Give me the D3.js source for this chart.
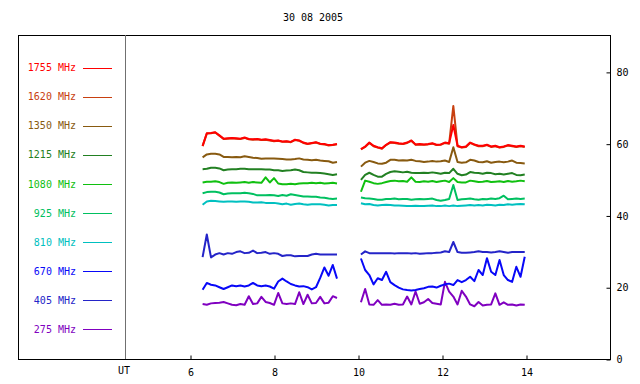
<!DOCTYPE html>
<html>
<head>
<meta charset="utf-8">
<script src="https://cdn.jsdelivr.net/npm/d3@7"></script>
<style>
  html, body { margin: 0; padding: 0; background: #ffffff; }
  svg { display: block; }
</style>
</head>
<body>
<svg id="chart" width="640" height="384"></svg>
<script>
// ---------------- DATA ----------------
const title = "30 08 2005";
const labels = ["1755 MHz", "1620 MHz", "1350 MHz", "1215 MHz", "1080 MHz",
                "925 MHz", "810 MHz", "670 MHz", "405 MHz", "275 MHz"];
const colors = ["#ff0000", "#c84010", "#885a10", "#228022", "#10c010",
                "#00c060", "#00c0c0", "#0808f8", "#2424c8", "#8000c0"];
const xTicks = [6, 8, 10, 12, 14];
const yTicks = [0, 20, 40, 60, 80];

// two observing segments, one sample every 0.1 h (UT)
const seg1Start = 6.3;
const seg2Start = 10.07;
const sampleStep = 0.1;

const v1755a = [59.4, 62.9, 63.0, 63.2, 62.3, 61.4, 61.5, 61.6, 61.5, 61.4, 61.7, 61.3, 61.2, 61.3, 61.1, 61.2, 61.0, 60.8, 60.9, 60.6, 60.7, 60.5, 61.1, 60.9, 60.3, 60.0, 60.2, 60.4, 60.0, 59.9, 59.6, 59.7, 59.9];
const v1755b = [58.5, 59.2, 60.3, 59.4, 59.0, 58.7, 59.7, 60.4, 60.3, 60.1, 60.0, 60.3, 60.9, 59.8, 59.9, 59.8, 59.9, 60.1, 59.7, 59.8, 60.3, 60.1, 65.2, 59.4, 59.0, 59.2, 60.3, 59.8, 59.4, 59.4, 59.7, 59.2, 59.4, 59.0, 59.2, 59.6, 59.4, 59.2, 59.4, 59.2];

const v1620a = [59.3, 62.8, 62.9, 63.1, 62.2, 61.3, 61.4, 61.5, 61.4, 61.3, 61.6, 61.2, 61.1, 61.2, 61.0, 61.1, 60.9, 60.7, 60.8, 60.5, 60.6, 60.4, 61.0, 60.8, 60.2, 59.9, 60.1, 60.3, 59.9, 59.8, 59.5, 59.6, 59.8];
const v1620b = [58.4, 59.1, 60.2, 59.3, 58.9, 58.6, 59.6, 60.3, 60.2, 60.0, 59.9, 60.2, 60.8, 59.7, 59.8, 59.7, 59.8, 60.0, 59.6, 59.7, 60.2, 60.0, 70.5, 59.3, 58.9, 59.1, 60.2, 59.7, 59.3, 59.3, 59.6, 59.1, 59.3, 58.9, 59.1, 59.5, 59.3, 59.1, 59.3, 59.1];

const v1350a = [56.2, 57.0, 57.2, 57.2, 57.0, 56.3, 56.3, 56.2, 56.3, 56.2, 56.5, 56.3, 56.1, 56.0, 55.8, 55.9, 55.9, 55.9, 55.8, 55.7, 55.6, 55.6, 55.7, 55.9, 55.6, 55.5, 55.4, 55.5, 55.3, 55.2, 55.1, 54.7, 54.9];
const v1350b = [53.6, 54.7, 55.2, 54.9, 54.5, 54.4, 54.7, 55.5, 55.5, 55.3, 55.4, 55.3, 55.5, 55.2, 55.1, 54.9, 55.0, 55.2, 55.0, 55.1, 55.3, 54.9, 59.0, 54.9, 54.7, 54.8, 55.5, 55.3, 54.9, 54.8, 55.1, 54.7, 54.9, 55.0, 54.8, 55.0, 55.3, 54.7, 54.6, 54.5];

const v1215a = [52.9, 53.0, 53.3, 53.3, 53.1, 52.6, 52.8, 52.9, 52.9, 53.0, 53.0, 52.9, 52.9, 52.9, 52.9, 52.8, 52.8, 52.6, 52.6, 52.4, 52.5, 52.6, 52.8, 52.6, 52.1, 52.0, 51.9, 51.9, 51.8, 51.7, 51.5, 51.3, 51.5];
const v1215b = [49.9, 51.3, 51.9, 51.3, 50.8, 50.8, 51.6, 52.1, 52.3, 52.2, 52.0, 52.2, 51.9, 51.8, 51.8, 51.9, 51.8, 52.0, 51.8, 51.6, 51.9, 51.8, 53.0, 51.6, 51.2, 51.4, 52.1, 51.9, 51.8, 51.6, 51.9, 51.8, 51.5, 51.6, 51.4, 51.6, 51.8, 51.3, 51.2, 51.4];

const v1080a = [49.2, 49.4, 49.4, 49.5, 49.3, 48.8, 49.1, 49.2, 49.1, 49.2, 49.3, 49.1, 49.3, 49.2, 49.1, 50.6, 49.2, 50.4, 48.9, 48.7, 48.7, 48.8, 48.7, 48.9, 49.0, 49.0, 49.1, 49.0, 49.1, 48.9, 49.0, 49.1, 48.9];
const v1080b = [46.6, 49.7, 49.4, 49.0, 48.8, 49.0, 49.3, 49.6, 49.7, 49.5, 49.6, 49.4, 50.6, 49.4, 49.3, 49.5, 49.4, 49.6, 49.3, 49.5, 49.7, 49.3, 50.4, 49.3, 49.2, 49.2, 49.7, 49.5, 49.3, 49.4, 49.6, 49.3, 49.4, 49.5, 49.3, 49.6, 49.4, 49.5, 49.7, 49.5];

const v925a = [46.2, 46.5, 46.6, 46.6, 46.4, 45.9, 46.1, 46.2, 46.2, 46.2, 46.3, 46.2, 46.0, 45.6, 45.6, 45.6, 45.7, 45.6, 45.4, 45.7, 45.5, 45.9, 45.7, 45.5, 45.3, 45.3, 45.2, 45.2, 45.0, 44.9, 44.7, 44.6, 44.7];
const v925b = [45.0, 44.8, 44.7, 44.6, 44.4, 44.4, 44.6, 44.6, 44.7, 44.5, 44.6, 44.6, 44.4, 44.5, 44.6, 44.5, 44.6, 44.7, 44.3, 44.1, 44.3, 44.6, 48.5, 44.3, 44.5, 44.6, 44.7, 44.5, 44.4, 44.6, 44.5, 44.7, 44.6, 44.8, 45.5, 44.5, 44.6, 44.7, 44.6, 44.7];

const v810a = [43.0, 43.9, 44.1, 44.0, 43.9, 43.8, 43.9, 43.9, 43.8, 43.9, 43.9, 43.8, 43.6, 43.6, 43.7, 43.5, 43.5, 43.5, 43.3, 43.1, 43.3, 43.0, 43.2, 43.3, 43.1, 43.0, 43.1, 43.1, 43.1, 43.0, 42.8, 42.9, 42.9];
const v810b = [43.4, 43.1, 43.2, 42.9, 42.8, 42.9, 43.0, 42.9, 42.8, 42.8, 42.7, 42.6, 42.6, 42.7, 42.6, 42.6, 42.7, 42.8, 42.6, 42.6, 42.8, 42.6, 42.8, 42.6, 42.7, 42.8, 42.9, 42.8, 42.9, 42.8, 43.0, 42.9, 42.8, 43.0, 42.9, 43.1, 43.0, 43.1, 43.2, 43.1];

const v670a = [19.3, 21.2, 20.7, 20.5, 20.0, 19.5, 20.0, 20.5, 20.3, 20.5, 20.2, 20.5, 21.2, 20.5, 20.3, 20.5, 20.2, 19.6, 21.6, 22.4, 21.6, 20.9, 20.5, 20.2, 20.3, 20.0, 19.4, 20.0, 22.6, 25.5, 23.2, 26.2, 22.4];
const v670b = [28.0, 24.8, 23.4, 20.8, 22.5, 22.0, 24.3, 21.4, 20.6, 19.9, 19.4, 19.2, 19.1, 19.2, 19.5, 19.7, 20.1, 20.2, 19.9, 20.4, 20.8, 21.0, 20.6, 22.0, 21.4, 22.0, 22.9, 21.7, 24.8, 23.4, 28.1, 24.3, 23.4, 27.6, 23.4, 22.0, 21.5, 25.7, 22.9, 28.5];

const v405a = [28.4, 34.7, 28.3, 29.1, 29.5, 29.1, 29.5, 29.3, 29.8, 30.0, 29.5, 29.6, 30.2, 29.5, 29.6, 29.8, 29.3, 29.5, 29.3, 28.7, 28.9, 28.9, 28.6, 28.7, 28.7, 28.7, 29.1, 29.3, 29.1, 29.1, 29.1, 29.1, 29.1];
const v405b = [29.1, 30.0, 29.5, 29.5, 29.5, 29.5, 29.5, 29.5, 29.4, 29.5, 29.5, 29.5, 29.4, 29.5, 29.3, 29.4, 29.5, 29.5, 29.6, 29.7, 30.0, 29.8, 32.6, 29.8, 29.6, 29.6, 29.7, 29.8, 30.0, 29.8, 29.8, 29.7, 29.8, 30.0, 29.8, 29.6, 29.8, 29.8, 29.8, 29.8];

const v275a = [15.3, 15.1, 15.5, 15.6, 15.7, 15.9, 15.5, 15.1, 15.0, 15.3, 15.1, 17.5, 15.3, 15.5, 17.3, 15.9, 15.6, 15.1, 18.4, 15.5, 15.3, 15.5, 15.3, 18.6, 15.3, 17.9, 15.5, 15.6, 17.3, 15.5, 15.7, 17.5, 17.0];
const v275b = [15.8, 19.5, 15.2, 15.1, 16.4, 15.1, 15.2, 15.1, 15.4, 15.1, 15.2, 17.4, 15.2, 18.8, 15.4, 15.8, 16.7, 15.6, 15.4, 15.2, 21.5, 18.8, 17.4, 15.2, 19.0, 17.4, 15.2, 14.7, 15.9, 14.9, 15.1, 15.2, 18.3, 15.1, 15.8, 15.1, 15.2, 14.9, 15.2, 15.1];

const segA = [v1755a, v1620a, v1350a, v1215a, v1080a, v925a, v810a, v670a, v405a, v275a];
const segB = [v1755b, v1620b, v1350b, v1215b, v1080b, v925b, v810b, v670b, v405b, v275b];

// ---------------- CHART ----------------
const FONT = "'DejaVu Sans Mono', monospace";
const svg = d3.select("#chart");
const frame = { left: 18, right: 610, top: 35, bottom: 359 };

const x = d3.scaleLinear().domain([6, 14]).range([190, 526]);
const y = d3.scaleLinear().domain([0, 90]).range([359, 36]);

// title
svg.append("text")
  .attr("x", 313).attr("y", 21)
  .attr("text-anchor", "middle")
  .attr("font-family", FONT).attr("font-size", 10)
  .attr("fill", "#000").text(title);

// frame
svg.append("rect")
  .attr("x", frame.left + 0.5).attr("y", frame.top + 0.5)
  .attr("width", frame.right - frame.left).attr("height", frame.bottom - frame.top)
  .attr("fill", "none").attr("stroke", "#000").attr("stroke-width", 1);

// UT separator line
svg.append("line")
  .attr("x1", 125.5).attr("x2", 125.5)
  .attr("y1", frame.top).attr("y2", frame.bottom)
  .attr("stroke", "#707070").attr("stroke-width", 1);

svg.append("text")
  .attr("x", 124).attr("y", 374)
  .attr("text-anchor", "middle")
  .attr("font-family", FONT).attr("font-size", 10)
  .attr("fill", "#000").text("UT");

// bottom axis
const gx = svg.append("g")
  .attr("transform", `translate(0.5,${frame.bottom + 0.5})`)
  .call(d3.axisBottom(x).tickValues(xTicks).tickSize(-4).tickPadding(9).tickFormat(d3.format("d")));
gx.select(".domain").remove();
gx.selectAll("text").attr("font-family", FONT).attr("font-size", 10).attr("fill", "#000");
gx.selectAll("line").attr("stroke", "#000");

// right axis
const gy = svg.append("g")
  .attr("transform", `translate(${frame.right + 0.5},0.5)`)
  .call(d3.axisRight(y).tickValues(yTicks).tickSize(-4).tickPadding(6).tickFormat(d3.format("d")));
gy.select(".domain").remove();
gy.selectAll("text").attr("font-family", FONT).attr("font-size", 10).attr("fill", "#000");
gy.selectAll("line").attr("stroke", "#000");

// legend
labels.forEach((lab, i) => {
  const ly = 67.5 + i * 29.1;
  svg.append("text")
    .attr("x", 76).attr("y", ly + 3.6)
    .attr("text-anchor", "end")
    .attr("font-family", FONT).attr("font-size", 10)
    .attr("fill", colors[i]).text(lab);
  svg.append("line")
    .attr("x1", 83).attr("x2", 112)
    .attr("y1", Math.round(ly) + 0.5).attr("y2", Math.round(ly) + 0.5)
    .attr("stroke", colors[i]).attr("stroke-width", 1);
});

// series
const line = d3.line().x(d => x(d[0])).y(d => y(d[1]));
const toPoints = (vals, start) => vals.map((v, i) => [start + i * sampleStep, v]);

const g = svg.append("g");
for (let i = labels.length - 1; i >= 0; i--) {
  [[segA[i], seg1Start], [segB[i], seg2Start]].forEach(([vals, start]) => {
    g.append("path")
      .datum(toPoints(vals, start))
      .attr("d", line)
      .attr("fill", "none")
      .attr("stroke", colors[i])
      .attr("stroke-width", 2)
      .attr("stroke-linejoin", "round");
  });
}
</script>
</body>
</html>
